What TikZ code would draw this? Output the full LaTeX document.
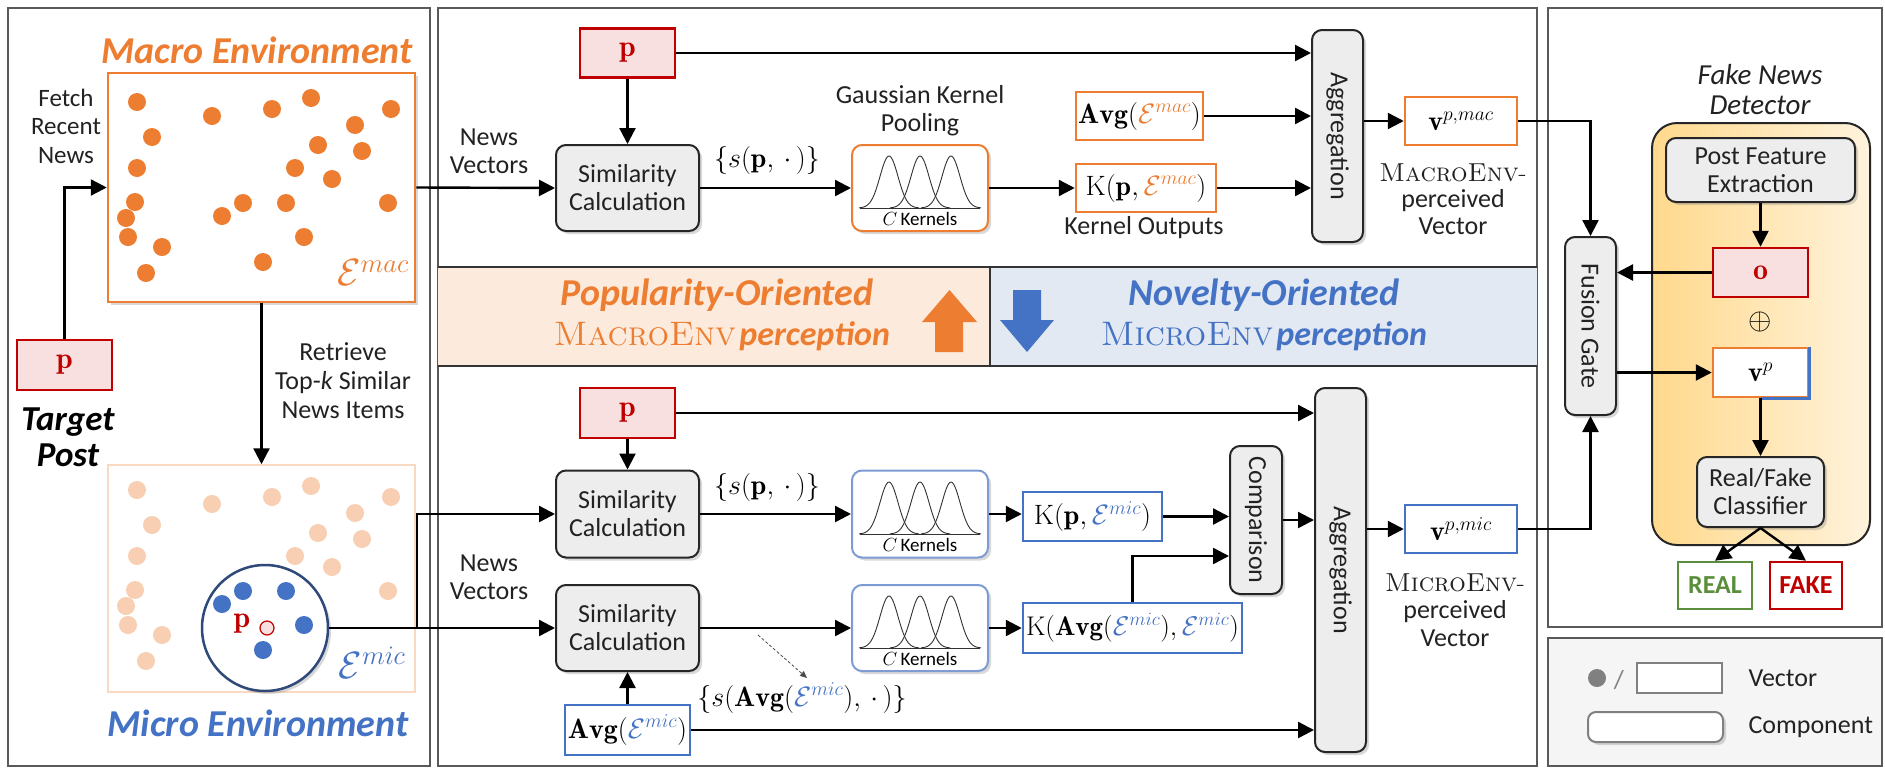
\RequirePackage{fix-cm}
\documentclass[tikz,border=0pt]{standalone}
\usepackage{fontspec}
\newfontfamily\cf{Carlito}
\usetikzlibrary{arrows.meta,shadows,calc}
\definecolor{orng}{HTML}{ED7D31}
\definecolor{paleor}{HTML}{F8CFB3}
\definecolor{blu}{HTML}{4472C4}
\definecolor{lblu}{HTML}{7E9CD3}
\definecolor{drkblu}{HTML}{2F4A78}
\definecolor{rd}{HTML}{C00000}
\definecolor{pinkf}{HTML}{F9E0E0}
\definecolor{compf}{HTML}{EDEDED}
\definecolor{bandL}{HTML}{FCEBDD}
\definecolor{bandR}{HTML}{E3E9F2}
\definecolor{grn}{HTML}{5B8E3A}
\definecolor{txt}{HTML}{222222}
\definecolor{detL}{HTML}{FFD98C}
\definecolor{detR}{HTML}{FFF3DC}
\tikzset{
 sf/.style={font=\cf\fontsize{26}{28}\selectfont, text=txt, align=center},
 mth/.style={font=\fontsize{28}{30}\selectfont},
 ln/.style={line width=2.4pt, draw=black},
 arr/.style={ln, -{Triangle[length=16pt,width=16pt]}},
 shad/.style={drop shadow={shadow xshift=3pt,shadow yshift=-3pt,opacity=0.3}},
 comp/.style={draw=black!85, line width=2pt, fill=compf, rounded corners=10pt, shad, inner sep=0pt},
 vecbox/.style={draw, line width=2.5pt, fill=white, inner sep=0pt},
 orbox/.style={vecbox, draw=orng},
 bluebox/.style={vecbox, draw=blu},
 redbox/.style={vecbox, draw=rd, fill=pinkf, text=rd, font=\fontsize{30}{32}\selectfont},
 kbox/.style={draw, line width=2pt, fill=white, rounded corners=10pt, shad, inner sep=0pt},
 panel/.style={draw=black!65, line width=2pt},
 bandtitle/.style={font=\cf\bfseries\itshape\fontsize{38}{40}\selectfont},
 gk/.pic={
  \draw[line width=1pt, black!80] (-60,20) -- (60,20);
  \foreach \m in {-31,0,31}
    \draw[line width=0.9pt, black!80, domain=-30:30, samples=41, smooth] plot ({\m+\x},{20-52*exp(-(\x*\x)/162)});
  \node[font=\fontsize{19}{21}\selectfont] (-t) at (0,31) {$C$\,{\cf Kernels}};
 }
}
\begin{document}
\begin{tikzpicture}[x=1pt,y=-1pt]
\useasboundingbox (0,0) rectangle (1885,769);
\fill[white] (0,0) rectangle (1885,769);

% ---------------- left panel
\draw[panel] (8,8) rectangle (430,766);
\node[font=\cf\bfseries\itshape\fontsize{38}{40}\selectfont, text=orng] (tmac) at (257,50) {Macro Environment};
\node[draw=orng, line width=2.5pt, fill=white, minimum width=307pt, minimum height=229pt, inner sep=0pt, shad] (macbox) at (261.5,187.5) {};
\node[draw=paleor!80, line width=1.5pt, minimum width=307pt, minimum height=227pt, inner sep=0pt] (micbox) at (261.5,578.5) {};
\foreach \x/\y in {137/102,152/137,137/168,135/202,126/218,128/237,162/247,146/273,212/116,222/216,243/203,272/109,263/262,286/203,295/168,304/237,311/98,318/145,332/179,355/125,362/151,391/109,388/203}{
  \fill[orng] (\x,\y) circle[radius=9pt];
  \fill[paleor] (\x,\y+388) circle[radius=9pt];
}
\node[text=orng, font=\fontsize{38}{40}\selectfont] (emac) at (373,273) {$\mathcal{E}^{mac}$};
\node[sf, font=\cf\fontsize{25}{28.5}\selectfont] (fetch) at (66,126) {Fetch\\Recent\\News};
\node[redbox, minimum width=95pt, minimum height=50pt] (pt) at (64.5,365) {$\mathbf{p}$};
\node[font=\cf\bfseries\itshape\fontsize{35}{36}\selectfont, align=center] (tpost) at (68,437) {Target\\Post};
\node[sf, font=\cf\fontsize{26}{29}\selectfont] (retr) at (343,381) {Retrieve\\Top-\textit{k} Similar\\News Items};
\node[circle, draw=drkblu, line width=2.5pt, fill=white, minimum size=126pt, inner sep=0pt, shad] (circ) at (265,628) {};
\foreach \x/\y in {222/604,243/591,286/591,304/625,263/650}{
  \fill[blu] (\x,\y) circle[radius=9pt];
}
\node[text=rd, font=\fontsize{30}{32}\selectfont] (pc) at (242,624) {$\mathbf{p}$};
\node[circle, draw=rd, fill=pinkf, line width=1.2pt, minimum size=14pt, inner sep=0pt] (pdot) at (267,628) {};
\node[text=blu, font=\fontsize{38}{40}\selectfont] (emic) at (372,663) {$\mathcal{E}^{mic}$};
\node[font=\cf\bfseries\itshape\fontsize{38}{40}\selectfont, text=blu] (tmic) at (258,723) {Micro Environment};
\draw[arr] (pt.north) |- (macbox.west);
\draw[arr] (macbox.south) -- (micbox.north);

% ---------------- middle panel
\draw[panel] (438,8) rectangle (1537,766);
\fill[bandL] (438,267) rectangle (990,366);
\fill[bandR] (990,267) rectangle (1537,366);
\draw[line width=2pt, black!80] (438,267) -- (1537,267) (438,366) -- (1537,366);
\draw[line width=1.5pt, black!80] (990,267) -- (990,366);
\fill[orng] (935,352) -- (935,322) -- (922,322) -- (949.5,290) -- (977,322) -- (963,322) -- (963,352) -- cycle;
\fill[blu] (1013,290) -- (1013,320) -- (1000,320) -- (1027,352) -- (1054,320) -- (1041,320) -- (1041,290) -- cycle;
\node[bandtitle, text=orng] (popt) at (717,295) {Popularity-Oriented};
\node[text=orng] (popb) at (722,336) {{\fontsize{34}{38}\selectfont\textsc{MacroEnv}} {\cf\bfseries\itshape\fontsize{34}{38}\selectfont perception}};
\node[bandtitle, text=blu] (novt) at (1264,295) {Novelty-Oriented};
\node[text=blu] (novb) at (1264,336) {{\fontsize{34}{38}\selectfont\textsc{MicroEnv}} {\cf\bfseries\itshape\fontsize{34}{38}\selectfont perception}};

% top section
\node[redbox, minimum width=95pt, minimum height=49pt] (p1) at (627.5,53) {$\mathbf{p}$};
\node[comp, sf, minimum width=143pt, minimum height=86pt] (sim1) at (627.5,188) {Similarity\\Calculation};
\node[kbox, draw=orng, minimum width=136pt, minimum height=86pt] (ker1) at (920,188) {};
\pic (k1) at (ker1) {gk};
\node[sf] (nv1) at (489,151) {News\\Vectors};
\node[sf] (gkp) at (920,111) {Gaussian Kernel\\Pooling};
\node[mth] (sp1) at (767,160) {$\{s(\mathbf{p},\,\cdot\,)\}$};
\node[orbox, mth, minimum width=127pt, minimum height=48pt] (avgmac) at (1139.5,116) {$\mathbf{Avg}(\textcolor{orng}{\mathcal{E}^{mac}})$};
\node[orbox, mth, minimum width=140pt, minimum height=48pt] (kpmac) at (1146,188) {$\mathrm{K}(\mathbf{p},\textcolor{orng}{\mathcal{E}^{mac}})$};
\node[sf] (kout) at (1144,228) {Kernel Outputs};
\node[comp, minimum width=51pt, minimum height=212pt] (agg1) at (1337.5,136) {};
\node[sf, rotate=-90] (agg1t) at (agg1) {Aggregation};
\node[orbox, mth, minimum width=112pt, minimum height=48pt] (vmac) at (1461,121) {$\mathbf{v}^{p,mac}$};
\node[sf, font=\cf\fontsize{26}{26.5}\selectfont] (macl) at (1453,199) {{\rmfamily\textsc{MacroEnv}-}\\perceived\\Vector};

\draw[arr] (macbox.east) -- (sim1.west);
\draw[arr] (p1.south) -- (sim1.north);
\draw[arr] (p1.east) -- (p1.east -| agg1.west);
\draw[arr] (sim1.east) -- (ker1.west);
\draw[arr] (ker1.east) -- (ker1.east -| kpmac.west);
\draw[arr] (avgmac.east) -- (avgmac.east -| agg1.west);
\draw[arr] (kpmac.east) -- (kpmac.east -| agg1.west);
\draw[arr] (vmac.west -| agg1.east) -- (vmac.west);

% bottom section
\node[redbox, minimum width=95pt, minimum height=50pt] (p2) at (627.5,413) {$\mathbf{p}$};
\node[comp, sf, minimum width=143pt, minimum height=87pt] (sim2a) at (627.5,514) {Similarity\\Calculation};
\node[kbox, draw=lblu, minimum width=136pt, minimum height=87pt] (ker2a) at (920,514) {};
\pic (k2) at (ker2a) {gk};
\node[mth] (sp2) at (767,487) {$\{s(\mathbf{p},\,\cdot\,)\}$};
\node[bluebox, mth, minimum width=139pt, minimum height=49pt] (kpmic) at (1092.5,516.5) {$\mathrm{K}(\mathbf{p},\textcolor{blu}{\mathcal{E}^{mic}})$};
\node[comp, sf, minimum width=143pt, minimum height=86pt] (sim2b) at (627.5,628) {Similarity\\Calculation};
\node[kbox, draw=lblu, minimum width=136pt, minimum height=86pt] (ker2b) at (920,628) {};
\pic (k3) at (ker2b) {gk};
\node[bluebox, font=\fontsize{27}{30}\selectfont, minimum width=219pt, minimum height=50pt] (kavg) at (1132.5,628) {$\mathrm{K}(\mathbf{Avg}(\textcolor{blu}{\mathcal{E}^{mic}}),\textcolor{blu}{\mathcal{E}^{mic}})$};
\node[bluebox, mth, minimum width=125pt, minimum height=50pt] (avgmic) at (627.5,730) {$\mathbf{Avg}(\textcolor{blu}{\mathcal{E}^{mic}})$};
\node[mth] (spavg) at (802,698) {$\{s(\mathbf{Avg}(\textcolor{blu}{\mathcal{E}^{mic}}),\,\cdot\,)\}$};
\node[comp, minimum width=52pt, minimum height=148pt] (cmp) at (1256,520) {};
\node[sf, rotate=-90] (cmpt) at (cmp) {Comparison};
\node[comp, minimum width=51pt, minimum height=364pt] (agg2) at (1340.5,570) {};
\node[sf, rotate=-90] (agg2t) at (agg2) {Aggregation};
\node[bluebox, mth, minimum width=112pt, minimum height=48pt] (vmic) at (1461,529) {$\mathbf{v}^{p,mic}$};
\node[sf, font=\cf\fontsize{26}{27.5}\selectfont] (micl) at (1455,610) {{\rmfamily\textsc{MicroEnv}-}\\perceived\\Vector};
\node[sf] (nv2) at (489,577) {News\\Vectors};

\coordinate (br) at (417,628);
\draw[arr] (circ.east) -- (circ.east -| sim2b.west);
\draw[arr] (br) |- (sim2a.west);
\draw[arr] (p2.south) -- (sim2a.north);
\draw[arr] (p2.east) -- (p2.east -| agg2.west);
\draw[arr] (sim2a.east) -- (ker2a.west);
\draw[arr] (ker2a.east) -- (ker2a.east -| kpmic.west);
\draw[arr] (kpmic.east) -- (kpmic.east -| cmp.west);
\draw[arr] (kavg.north) |- ($(cmp.west)+(0,36)$);
\draw[arr] (cmp.east) -- (cmp.east -| agg2.west);
\draw[arr] (sim2b.east) -- (ker2b.west);
\draw[arr] (ker2b.east) -- (ker2b.east -| kavg.west);
\draw[arr] (avgmic.north) -- (sim2b.south);
\draw[arr] (avgmic.east) -- (avgmic.east -| agg2.west);
\draw[arr] (vmic.west -| agg2.east) -- (vmic.west);
\coordinate (d1) at (758,635);
\coordinate (d2) at (807,678);
\draw[densely dashed, line width=0.8pt, black!70, -{Triangle[length=7pt,width=6pt]}] (d1) -- (d2);

% ---------------- right panel
\draw[panel] (1548,8) rectangle (1882,627);
\draw[panel, fill=black!4] (1548,638) rectangle (1882,766);
\node[font=\cf\itshape\fontsize{29}{30}\selectfont, align=center, text=txt] (fnd) at (1760,90) {Fake News\\Detector};
\node[draw=black!85, line width=2pt, rounded corners=25pt, left color=detL, right color=detR, minimum width=218pt, minimum height=422pt, inner sep=0pt] (det) at (1761,334) {};
\node[comp, sf, minimum width=189pt, minimum height=64pt] (pfe) at (1760.5,170) {Post Feature\\Extraction};
\node[redbox, minimum width=95pt, minimum height=49pt] (onode) at (1760.5,272.5) {$\mathbf{o}$};
\node[font=\fontsize{30}{32}\selectfont] (oplus) at (1760,322) {$\oplus$};
\node[vecbox, draw=orng, mth, minimum width=95pt, minimum height=49pt] (vp) at (1760.5,372.5) {$\mathbf{v}^{p}$};
\draw[blu, line width=2.5pt] (vp.north east) -- (vp.south east) -- (vp.south);
\node[comp, sf, minimum width=127pt, minimum height=70pt] (rfc) at (1760.5,492) {Real/Fake\\Classifier};
\node[draw=grn, line width=2.5pt, fill=white, minimum width=74pt, minimum height=47pt, font=\cf\bfseries\fontsize{26}{28}\selectfont, text=grn] (real) at (1715,585.5) {REAL};
\node[draw=rd, line width=2.5pt, fill=white, minimum width=72pt, minimum height=47pt, font=\cf\bfseries\fontsize{26}{28}\selectfont, text=rd] (fake) at (1806,585.5) {FAKE};
\node[comp, minimum width=51pt, minimum height=178pt] (fg) at (1590.5,326) {};
\node[sf, rotate=-90] (fgt) at (fg) {Fusion Gate};

\draw[arr] (vmac.east) -| (fg.north);
\draw[arr] (vmic.east) -| (fg.south);
\draw[arr] (pfe.south) -- (onode.north);
\draw[arr] (onode.west) -- (onode.west -| fg.east);
\draw[arr] (fg.east |- vp.west) -- (vp.west);
\draw[arr] (vp.south) -- (rfc.north);
\draw[arr] (rfc.south) -- (real.north);
\draw[arr] (rfc.south) -- (fake.north);

% legend
\node[circle, fill=black!50, minimum size=18pt, inner sep=0pt] (lgdot) at (1597,678) {};
\node[font=\cf\fontsize{26}{28}\selectfont, text=black!50] (lgsl) at (1619,680) {/};
\node[draw=black!50, line width=2pt, fill=white, minimum width=85pt, minimum height=30pt, inner sep=0pt] (lgvec) at (1679.5,678) {};
\node[sf, anchor=west] (lgvt) at (1745,678) {Vector};
\node[draw=black!50, line width=2pt, fill=white, rounded corners=8pt, minimum width=135pt, minimum height=30pt, inner sep=0pt, shad] (lgcomp) at (1655.5,727) {};
\node[sf, anchor=west] (lgct) at (1745,727) {Component};
\end{tikzpicture}
\end{document}
